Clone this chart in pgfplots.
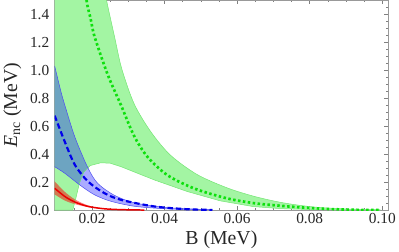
\documentclass[border=0pt]{standalone}
\usepackage{fontspec}
\setmainfont{Liberation Serif}
\usepackage{pgfplots}
\pgfplotsset{compat=1.18}
\usepgfplotslibrary{fillbetween}
\definecolor{gfill}{rgb}{0.64,0.96,0.64}
\definecolor{gedge}{rgb}{0.45,0.90,0.45}
\definecolor{gline}{rgb}{0.05,0.88,0.05}
\definecolor{bline}{rgb}{0.0,0.0,0.92}
\definecolor{rline}{rgb}{0.92,0.0,0.0}
\begin{document}
\begin{tikzpicture}
\begin{axis}[
  scale only axis, width=337pt, height=212pt,
  xmin=0.0097, xmax=0.1016, ymin=0, ymax=1.5,
  xtick={0.02,0.04,0.06,0.08,0.10},
  minor xtick={0.01,0.015,0.025,0.03,0.035,0.045,0.05,0.055,0.065,0.07,0.075,0.085,0.09,0.095},
  ytick={0,0.2,0.4,0.6,0.8,1.0,1.2,1.4},
  minor ytick={0.05,0.1,0.15,0.25,0.3,0.35,0.45,0.5,0.55,0.65,0.7,0.75,0.85,0.9,0.95,1.05,1.1,1.15,1.25,1.3,1.35,1.45},
  tick align=inside,
  major tick length=4pt, minor tick length=2.2pt,
  every tick/.style={gray, line width=0.5pt},
  axis line style={gray!80, line width=0.6pt},
  scaled x ticks=false, scaled y ticks=false,
  /pgf/number format/assume math mode=true,
  xticklabel style={/pgf/number format/.cd,fixed,fixed zerofill,precision=2,/tikz/.cd, font=\fontsize{15.5}{15.5}\selectfont, text=black!85},
  yticklabel style={/pgf/number format/.cd,fixed,fixed zerofill,precision=1,/tikz/.cd, font=\fontsize{15.5}{15.5}\selectfont, text=black!85, xshift=-2pt},
  xlabel={B (MeV)},
  ylabel={\textit{E}\textsubscript{nc} (MeV)},
  label style={font=\fontsize{20}{20}\selectfont, text=black!85},
  xlabel style={yshift=0pt},
  ylabel style={yshift=2pt},
]
% green band
\addplot[name path=gu, gedge, line width=0.5pt, smooth] coordinates {
 (0.0097,1.9) (0.021,1.9) (0.0226,1.72) (0.0234,1.6) (0.0240,1.5) (0.0262,1.24) (0.0282,1.01) (0.0316,0.76) (0.0362,0.56) (0.0416,0.393) (0.0489,0.255) (0.0571,0.16) (0.0644,0.10) (0.072,0.055) (0.080,0.025) (0.088,0.01) (0.0995,0.002)};
\addplot[name path=gl, gedge, line width=0.5pt] coordinates {
 (0.0097,0) (0.0147,0) (0.0155,0.08) (0.0165,0.19) (0.0177,0.27) (0.0195,0.318) (0.0224,0.338) (0.025,0.335) (0.028,0.31) (0.0371,0.216) (0.0462,0.133) (0.0553,0.066) (0.0644,0.025) (0.072,0.010) (0.080,0.004) (0.09,0.001) (0.0995,0)};
\addplot[gfill] fill between[of=gu and gl];
% blue band
\addplot[name path=bu, bline!70, line width=0.5pt, smooth] coordinates {
 (0.0097,1.03) (0.0114,0.85) (0.0125,0.75) (0.0153,0.52) (0.0189,0.30) (0.0216,0.19) (0.0262,0.105) (0.032,0.05) (0.041,0.017) (0.05,0.005) (0.0532,0.003)};
\addplot[name path=bl, bline!70, line width=0.5pt, smooth] coordinates {
 (0.0097,0.31) (0.0125,0.263) (0.0166,0.18) (0.0207,0.109) (0.0253,0.062) (0.032,0.026) (0.041,0.008) (0.05,0.002) (0.0532,0.001)};
\addplot[blue, fill opacity=0.33] fill between[of=bu and bl];
% red band
\addplot[name path=ru, draw=none, smooth] coordinates {
 (0.0097,0.205) (0.0125,0.13) (0.0153,0.076) (0.019,0.032) (0.023,0.011) (0.026,0.005)};
\addplot[name path=rl, draw=none, smooth] coordinates {
 (0.0097,0.112) (0.0125,0.068) (0.0153,0.042) (0.019,0.021) (0.023,0.008) (0.026,0.004)};
\addplot[red, fill opacity=0.5] fill between[of=ru and rl];
% central lines
\addplot[gline, line width=2.7pt, dash pattern=on 2.5pt off 2.5pt, smooth] coordinates {
 (0.0178,1.75) (0.0185,1.5) (0.0196,1.37) (0.0207,1.24) (0.0243,0.97) (0.028,0.749) (0.0316,0.53) (0.0353,0.38) (0.0407,0.251) (0.048,0.156) (0.057,0.085) (0.0644,0.05) (0.070,0.035) (0.077,0.02) (0.085,0.008) (0.092,0.002) (0.099,0.0)};
\addplot[bline, line width=2.2pt, dash pattern=on 5.5pt off 3pt, smooth] coordinates {
 (0.0097,0.675) (0.0125,0.488) (0.0153,0.322) (0.0189,0.204) (0.0234,0.121) (0.028,0.073) (0.0371,0.026) (0.0462,0.006) (0.0532,0.001)};
\addplot[rline, line width=1.5pt, smooth] coordinates {
 (0.0097,0.156) (0.0125,0.097) (0.0153,0.057) (0.0189,0.026) (0.0234,0.009) (0.028,0.003) (0.0344,0.0)};
\end{axis}
\end{tikzpicture}
\end{document}
